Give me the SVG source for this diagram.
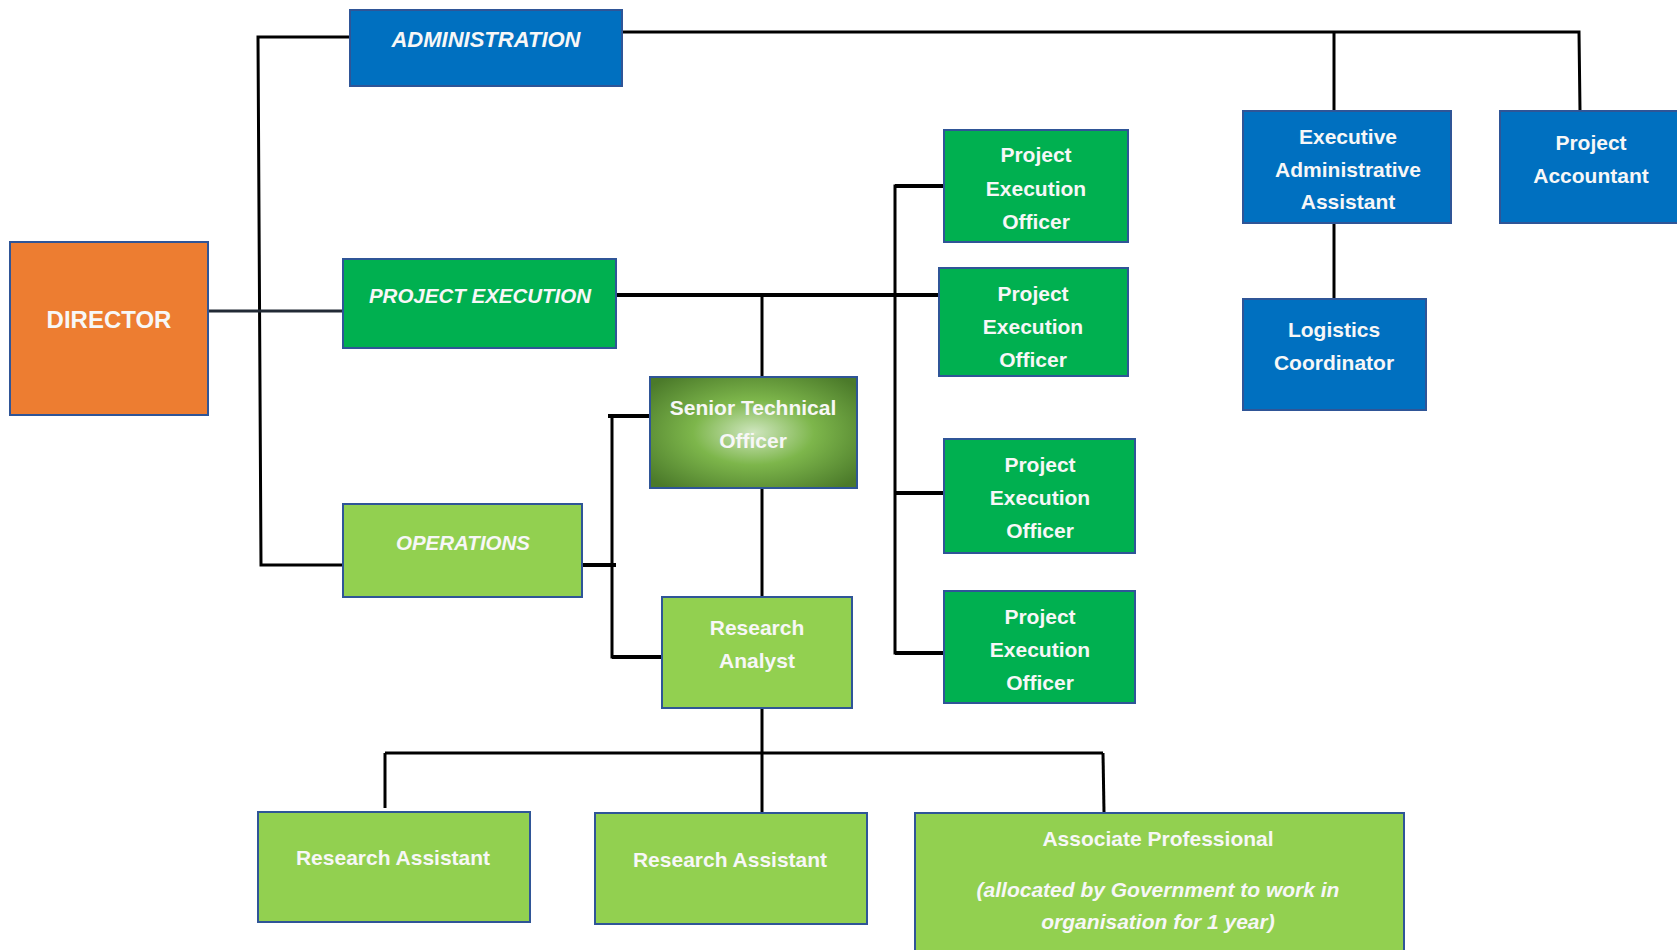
<svg xmlns="http://www.w3.org/2000/svg" width="1677" height="950" viewBox="0 0 1677 950">
<defs>
<radialGradient id="stoGrad" cx="50%" cy="50%" r="65%">
<stop offset="0%" stop-color="#CFE6BF"/>
<stop offset="45%" stop-color="#7DB64B"/>
<stop offset="100%" stop-color="#4B7A2A"/>
</radialGradient>
<style>
.box{stroke:#2F5597;stroke-width:2}
.orange{fill:#ED7D31}
.blue{fill:#0070C0}
.green{fill:#00B050}
.lgreen{fill:#92D050}
.t{font-family:"Liberation Sans",Arial,sans-serif;font-weight:bold;fill:#F7F7F7;text-anchor:middle;font-size:21px}
.it{font-style:italic}
.ln{stroke:#000;stroke-width:3;fill:none}
.thick{stroke-width:4}
</style>
</defs>

<g id="connectors">
<!-- director bus -->
<polyline class="ln" points="350,37 258,37 261,565 343,565"/>
<line x1="208" y1="311" x2="343" y2="311" stroke="#222A35" stroke-width="3"/>
<!-- administration -->
<polyline class="ln" points="616,32 1579,32 1580,111"/>
<line class="ln" x1="1334" y1="32" x2="1334" y2="111"/>
<line class="ln" x1="1334" y1="223" x2="1334" y2="299"/>
<!-- project execution -->
<line class="ln thick" x1="616" y1="295" x2="939" y2="295"/>
<line class="ln" x1="762" y1="295" x2="762" y2="377"/>
<polyline class="ln" points="944,186 895,186 895,653 944,653"/>
<line class="ln thick" x1="895" y1="493" x2="944" y2="493"/>
<line class="ln thick" x1="895" y1="186" x2="944" y2="186"/>
<line class="ln thick" x1="895" y1="653" x2="944" y2="653"/>
<!-- operations -->
<line class="ln thick" x1="582" y1="565" x2="616" y2="565"/>
<polyline class="ln" points="650,416 612,416 612,657 662,657"/>
<line class="ln thick" x1="608" y1="416" x2="650" y2="416"/>
<line class="ln thick" x1="612" y1="657" x2="662" y2="657"/>
<line class="ln" x1="762" y1="488" x2="762" y2="597"/>
<!-- research analyst -->
<line class="ln" x1="762" y1="708" x2="762" y2="813"/>
<line class="ln" x1="385" y1="753" x2="1103" y2="753" stroke-width="5"/>
<line class="ln" x1="385" y1="753" x2="385" y2="808"/>
<line class="ln" x1="1103" y1="753" x2="1104" y2="812"/>
</g>

<g id="director">
<rect class="box orange" x="10" y="242" width="198" height="173"/>
<text class="t" x="109" y="328" font-size="24" style="font-size:24px">DIRECTOR</text>
</g>

<g id="administration">
<rect class="box blue" x="350" y="10" width="272" height="76"/>
<text class="t it" x="486" y="47" style="font-size:22px">ADMINISTRATION</text>
</g>

<g id="project-execution">
<rect class="box green" x="343" y="259" width="273" height="89"/>
<text class="t it" x="480" y="303" style="font-size:20.5px">PROJECT EXECUTION</text>
</g>

<g id="operations">
<rect class="box lgreen" x="343" y="504" width="239" height="93"/>
<text class="t it" x="463" y="550" style="font-size:20.5px">OPERATIONS</text>
</g>

<g id="senior-technical-officer">
<rect class="box" x="650" y="377" width="207" height="111" fill="url(#stoGrad)"/>
<text class="t" x="753" y="415">Senior Technical</text>
<text class="t" x="753" y="448">Officer</text>
</g>

<g id="research-analyst">
<rect class="box lgreen" x="662" y="597" width="190" height="111"/>
<text class="t" x="757" y="635">Research</text>
<text class="t" x="757" y="668">Analyst</text>
</g>

<g id="peo-1">
<rect class="box green" x="944" y="130" width="184" height="112"/>
<text class="t" x="1036" y="162">Project</text>
<text class="t" x="1036" y="196">Execution</text>
<text class="t" x="1036" y="229">Officer</text>
</g>

<g id="peo-2">
<rect class="box green" x="939" y="268" width="189" height="108"/>
<text class="t" x="1033" y="301">Project</text>
<text class="t" x="1033" y="334">Execution</text>
<text class="t" x="1033" y="367">Officer</text>
</g>

<g id="peo-3">
<rect class="box green" x="944" y="439" width="191" height="114"/>
<text class="t" x="1040" y="472">Project</text>
<text class="t" x="1040" y="505">Execution</text>
<text class="t" x="1040" y="538">Officer</text>
</g>

<g id="peo-4">
<rect class="box green" x="944" y="591" width="191" height="112"/>
<text class="t" x="1040" y="624">Project</text>
<text class="t" x="1040" y="657">Execution</text>
<text class="t" x="1040" y="690">Officer</text>
</g>

<g id="executive-administrative-assistant">
<rect class="box blue" x="1243" y="111" width="208" height="112"/>
<text class="t" x="1348" y="144">Executive</text>
<text class="t" x="1348" y="177">Administrative</text>
<text class="t" x="1348" y="209">Assistant</text>
</g>

<g id="project-accountant">
<rect class="box blue" x="1500" y="111" width="190" height="112"/>
<text class="t" x="1591" y="150">Project</text>
<text class="t" x="1591" y="183">Accountant</text>
</g>

<g id="logistics-coordinator">
<rect class="box blue" x="1243" y="299" width="183" height="111"/>
<text class="t" x="1334" y="337">Logistics</text>
<text class="t" x="1334" y="370">Coordinator</text>
</g>

<g id="research-assistant-1">
<rect class="box lgreen" x="258" y="812" width="272" height="110"/>
<text class="t" x="393" y="865">Research Assistant</text>
</g>

<g id="research-assistant-2">
<rect class="box lgreen" x="595" y="813" width="272" height="111"/>
<text class="t" x="730" y="867">Research Assistant</text>
</g>

<g id="associate-professional">
<rect class="box lgreen" x="915" y="813" width="489" height="150"/>
<text class="t" x="1158" y="846">Associate Professional</text>
<text class="t it" x="1158" y="897">(allocated by Government to work in</text>
<text class="t it" x="1158" y="929">organisation for 1 year)</text>
</g>
</svg>
